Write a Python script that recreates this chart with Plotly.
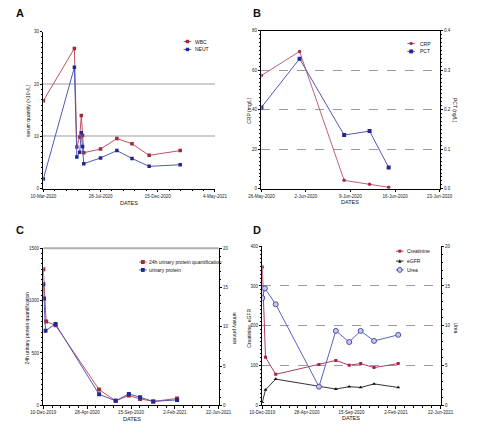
import plotly.graph_objects as go

W, H = 500, 441
FONT = "Liberation Sans"
RED = "#9e2a3a"
REDL = "#c0505e"
BLUE = "#22288f"
BLUEL = "#5058b8"

# ---------------- data ----------------
a_dates = ["2020-03-10", "2020-05-25", "2020-05-31", "2020-06-07", "2020-06-11", "2020-06-14",
           "2020-06-17", "2020-07-28", "2020-09-06", "2020-10-13", "2020-11-24", "2021-02-08"]
a_wbc = [16.8, 26.8, 8.0, 9.9, 14.0, 10.2, 6.9, 7.6, 9.6, 8.6, 6.4, 7.3]
a_neut = [1.9, 23.2, 6.1, 7.0, 10.7, 8.1, 4.8, 5.9, 7.3, 5.8, 4.3, 4.6]
a_ticks = ["2020-03-10", "2020-07-28", "2020-12-15", "2021-05-04"]
a_ticktext = ["10-Mar-2020", "28-Jul-2020", "15-Dec-2020", "4-May-2021"]

b_dates = ["2020-05-26", "2020-06-01", "2020-06-08", "2020-06-12", "2020-06-15"]
b_crp = [57.3, 69.5, 4.3, 2.3, 0.8]
b_pct = [0.206, 0.329, 0.136, 0.146, 0.054]
b_ticks = ["2020-05-26", "2020-06-02", "2020-06-09", "2020-06-16", "2020-06-23"]
b_ticktext = ["26-May-2020", "2-Jun-2020", "9-Jun-2020", "16-Jun-2020", "23-Jun-2020"]

c_dates = ["2019-12-10", "2019-12-19", "2020-01-18", "2020-06-05", "2020-07-28",
           "2020-09-08", "2020-10-14", "2020-11-25", "2021-02-09"]
c_24h = [1300, 800, 764, 151, 43, 94, 62, 38, 66]
c_up_dates = ["2019-12-10", "2019-12-12", "2019-12-17", "2020-01-18", "2020-06-05", "2020-07-28",
              "2020-09-08", "2020-10-14", "2020-11-25", "2021-02-09"]
c_up = [15.4, 13.6, 9.5, 10.35, 1.4, 0.58, 1.46, 1.04, 0.5, 0.7]
cd_ticks = ["2019-12-10", "2020-04-28", "2020-09-15", "2021-02-02", "2021-06-22"]
cd_ticktext = ["10-Dec-2019", "28-Apr-2020", "15-Sep-2020", "2-Feb-2021", "22-Jun-2021"]

d_dates = ["2019-12-10", "2019-12-20", "2020-01-21", "2020-06-05", "2020-07-28",
           "2020-09-08", "2020-10-14", "2020-11-25", "2021-02-09"]
d_creat = [348, 121, 78, 103, 113, 101, 105, 95, 105]
d_egfr = [8, 39, 66, 48, 41, 47, 45, 54, 45]
d_urea_dates = ["2019-12-10", "2019-12-18", "2020-01-21", "2020-06-05", "2020-07-28",
                "2020-09-08", "2020-10-14", "2020-11-25", "2021-02-09"]
d_urea = [13.5, 14.7, 12.7, 2.35, 9.36, 7.96, 9.36, 8.1, 8.86]

# ---------------- figure ----------------
fig = go.Figure()

def px_x(p):
    return p / W

def px_y(p):
    return 1 - p / H

STYLE = {
    "WBC": (RED, REDL, "square", 3.5, None),
    "NEUT": (BLUE, BLUEL, "square", 3.5, None),
    "CRP": ("#a0304f", "#c06078", "circle", 3.5, None),
    "PCT": (BLUE, BLUEL, "square", 4, None),
    "24h urinary protein quantification": (RED, REDL, "square", 4, None),
    "urinary protein": (BLUE, BLUEL, "square", 4, None),
    "Creatinine": ("#a8204a", "#b03a60", "square", 3, None),
    "eGFR": ("#111111", "#333333", "triangle-up", 3.5, None),
    "Urea": ("#4a4fb0", "#5a60c0", "circle", 5, "#c8c8ee"),
}

def sc(x, y, name, xa, ya):
    color, lcolor, symbol, size, fill = STYLE[name]
    fig.add_trace(go.Scatter(
        x=x, y=y, name=name, xaxis=xa, yaxis=ya, mode="lines+markers", showlegend=False,
        line=dict(color=lcolor, width=1),
        marker=dict(color=fill or color, symbol=symbol, size=size,
                    line=dict(color=color, width=1 if fill else 0))))

sc(a_dates, a_wbc, "WBC", "x", "y")
sc(a_dates, a_neut, "NEUT", "x", "y")
sc(b_dates, b_crp, "CRP", "x2", "y2")
sc(b_dates, b_pct, "PCT", "x2", "y3")
sc(c_dates, c_24h, "24h urinary protein quantification", "x3", "y4")
sc(c_up_dates, c_up, "urinary protein", "x3", "y5")
sc(d_dates, d_creat, "Creatinine", "x4", "y6")
sc(d_dates, d_egfr, "eGFR", "x4", "y6")
sc(d_urea_dates, d_urea, "Urea", "x4", "y7")

tickfont = dict(family=FONT, size=4.5, color="#222")

def xaxis(dom, anchor, rng, tv, tt, minor_dt=None, mirror=False):
    d = dict(domain=[px_x(dom[0]), px_x(dom[1])], anchor=anchor, type="date", range=rng,
             tickvals=tv, ticktext=tt, showline=True, linecolor="#000", linewidth=1,
             ticks="outside", ticklen=2.5, tickcolor="#000", showgrid=False, zeroline=False,
             tickfont=tickfont, mirror=mirror)
    if minor_dt:
        d["minor"] = dict(ticks="outside", ticklen=1.5, tickcolor="#000", dtick=minor_dt,
                          tick0=rng[0], showgrid=False)
    return d

def yaxis(dom, anchor, rng, dtick, minor, side="left", overlaying=None, grid=None, fmt=None):
    d = dict(domain=[px_y(dom[1]), px_y(dom[0])], anchor=anchor, range=rng, dtick=dtick,
             tick0=0, showline=True, linecolor="#000", linewidth=1, ticks="outside",
             ticklen=2.5, tickcolor="#000", zeroline=False, tickfont=tickfont, side=side,
             minor=dict(ticks="outside", ticklen=1.5, tickcolor="#000", dtick=minor, showgrid=False))
    if fmt:
        d["tickformat"] = fmt
    if overlaying:
        d["overlaying"] = overlaying
    if grid:
        d.update(showgrid=True, gridcolor=grid[0], gridwidth=grid[1], griddash=grid[2])
    else:
        d["showgrid"] = False
    return d

DAY = 86400000
fig.update_layout(
    xaxis=xaxis((32, 213), "y", ["2020-03-10", "2021-05-04"], a_ticks, a_ticktext, 28 * DAY),
    yaxis=yaxis((30, 189), "x", [0, 30], 10, 1, grid=("#cfcfcf", 1.5, "solid")),
    xaxis2=xaxis((262, 450), "y2", ["2020-05-26", "2020-06-23"], b_ticks, b_ticktext, None, mirror=True),
    yaxis2=yaxis((29, 189), "x2", [0, 80], 20, 2, grid=("#9a9a9a", 0.7, "dash")),
    yaxis3=yaxis((29, 189), "x2", [0, 0.4], 0.1, 0.01, side="right", overlaying="y2", fmt=".1f"),
    xaxis3=xaxis((32, 217), "y4", ["2019-12-10", "2021-06-22"], cd_ticks, cd_ticktext, 28 * DAY),
    yaxis4=yaxis((249, 408), "x3", [0, 1500], 500, 50),
    yaxis5=yaxis((249, 408), "x3", [0, 20], 5, 1, side="right", overlaying="y4"),
    xaxis4=xaxis((263, 451), "y6", ["2019-12-10", "2021-06-22"], cd_ticks, cd_ticktext, 28 * DAY),
    yaxis6=yaxis((247, 408), "x4", [0, 400], 100, 10, grid=("#9a9a9a", 0.7, "dash")),
    yaxis7=yaxis((247, 408), "x4", [0, 20], 5, 1, side="right", overlaying="y6"),
)

shapes = []
ann = []

def text(x, y, t, size=6, angle=0, bold=False, xanchor="center"):
    ann.append(dict(x=px_x(x), y=px_y(y), xref="paper", yref="paper", text=f"<b>{t}</b>" if bold else t,
                    showarrow=False, textangle=angle, xanchor=xanchor, yanchor="middle",
                    font=dict(family=FONT, size=size, color="#111")))

# manual compact legends (symbol + short line + label)
def legend(xm, xt, ys, names):
    for y, name in zip(ys, names):
        color, lcolor, symbol, size, fill = STYLE[name]
        shapes.append(dict(type="line", xref="paper", yref="paper", x0=px_x(xm - 4), x1=px_x(xm + 4),
                           y0=px_y(y), y1=px_y(y), line=dict(color=lcolor, width=1)))
        s = size / 2
        if symbol == "square":
            shapes.append(dict(type="rect", xref="paper", yref="paper", x0=px_x(xm - s), x1=px_x(xm + s),
                               y0=px_y(y + s), y1=px_y(y - s), fillcolor=color, line=dict(width=0)))
        elif symbol == "circle":
            shapes.append(dict(type="circle", xref="paper", yref="paper", x0=px_x(xm - s), x1=px_x(xm + s),
                               y0=px_y(y + s), y1=px_y(y - s), fillcolor=fill or color,
                               line=dict(color=color, width=1 if fill else 0)))
        else:
            path = (f"M {px_x(xm - s)} {px_y(y + s)} L {px_x(xm + s)} {px_y(y + s)} "
                    f"L {px_x(xm)} {px_y(y - s)} Z")
            shapes.append(dict(type="path", xref="paper", yref="paper", path=path, fillcolor=color,
                               line=dict(width=0)))
        text(xt, y, name, 5, xanchor="left")

legend(184, 190, [40, 48], ["WBC", "NEUT"])
legend(420, 427, [42, 50], ["CRP", "PCT"])
legend(137, 141, [263, 271], ["24h urinary protein quantification", "urinary protein"])
legend(408, 414, [252, 262, 271], ["Creatinine", "eGFR", "Urea"])

# gray top border for panel C
shapes.append(dict(type="line", xref="x3 domain", yref="y4 domain", x0=0, x1=1, y0=1, y1=1,
                   line=dict(color="#b0b0b0", width=2)))

text(7, 11, "A", 11, bold=True)
text(257, 11, "B", 11, bold=True)
text(7, 231, "C", 11, bold=True)
text(257, 231, "D", 11, bold=True)
text(122, 203, "DATES", 5.5)
text(356, 202, "DATES", 5.5)
text(125, 422, "DATES", 5.5)
text(357, 421, "DATES", 5.5)
text(16, 110, "serum quantity (×10⁹/L)", 5, -90)
text(249, 110, "CRP (mg/L)", 5, -90)
text(467, 110, "PCT (ng/L)", 5, 90)
text(15, 330, "24h urinary protein quantification", 5, -90)
text(234, 330, "urinary protein", 5, 90)
text(249.5, 330, "Creatinine, eGFR", 5, -90)
text(467, 330, "Urea", 5, 90)

fig.update_layout(annotations=ann, shapes=shapes, width=W, height=H, margin=dict(l=0, r=0, t=0, b=0),
                  paper_bgcolor="white", plot_bgcolor="white",
                  font=dict(family=FONT, size=6))

fig.write_html("out.html", config={"displayModeBar": False},
               post_script="document.body.style.margin='0';document.body.style.padding='0';"
                           "document.documentElement.style.margin='0';")
